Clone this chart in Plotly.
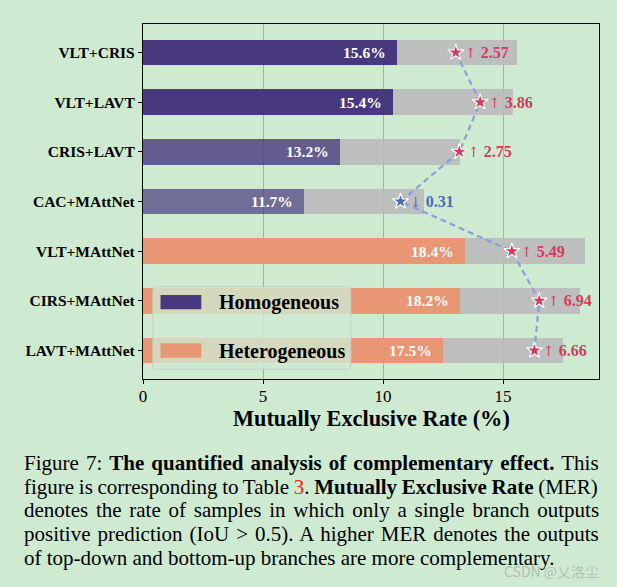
import plotly.graph_objects as go

categories = ["VLT+CRIS", "VLT+LAVT", "CRIS+LAVT", "CAC+MAttNet",
              "VLT+MAttNet", "CIRS+MAttNet", "LAVT+MAttNet"]
totals = [15.6, 15.4, 13.2, 11.7, 18.4, 18.2, 17.5]
colored = [10.6, 10.4, 8.2, 6.7, 13.4, 13.2, 12.5]
star_vals = [13.03, 14.05, 13.18, 10.73, 15.37, 16.51, 16.31]
deltas = [2.57, 3.86, 2.75, -0.31, 5.49, 6.94, 6.66]
groups = ["homo", "homo", "homo", "homo", "hetero", "hetero", "hetero"]
homo_alpha = [1.0, 1.0, 0.8, 0.7]
xticks = [0, 5, 10, 15]

BG = "#ceebd1"
FONT = "Liberation Serif"
PURPLE = (72, 57, 126)
SALMON = "rgb(233,150,116)"
GRAY = "rgba(186,186,186,0.9)"
UP = "#d43b5c"
DOWN = "#4a6cb4"

ypos = list(range(len(categories)))
bar_colors = []
hi = 0
for g in groups:
    if g == "homo":
        a = homo_alpha[hi]; hi += 1
        bar_colors.append(f"rgba({PURPLE[0]},{PURPLE[1]},{PURPLE[2]},{a})")
    else:
        bar_colors.append(SALMON)

fig = go.Figure()
fig.add_trace(go.Bar(y=ypos, x=colored, orientation="h", width=0.52,
                     marker=dict(color=bar_colors, line=dict(width=0)),
                     showlegend=False, hoverinfo="skip"))
fig.add_trace(go.Bar(y=ypos, x=[t - c for t, c in zip(totals, colored)],
                     orientation="h", width=0.52,
                     marker=dict(color=GRAY, line=dict(width=0)),
                     showlegend=False, hoverinfo="skip"))
fig.add_trace(go.Scatter(y=ypos, x=star_vals, mode="lines",
                         line=dict(color="#8a9fd8", width=2.2, dash="6px,4px"),
                         showlegend=False, hoverinfo="skip"))
fig.add_trace(go.Scatter(y=ypos, x=star_vals, mode="markers",
                         marker=dict(symbol="star", size=12,
                                     color=[UP if d > 0 else DOWN for d in deltas],
                                     line=dict(color="white", width=1.2)),
                         showlegend=False, hoverinfo="skip"))

annos = []
for y, c, t in zip(ypos, colored, totals):
    annos.append(dict(x=c, y=y, xref="x", yref="y", text=f"{t:.1f}%",
                      xanchor="right", yanchor="middle", xshift=-9, showarrow=False,
                      font=dict(family=FONT, size=15.5, color="white", weight="bold")))
for y, s, d in zip(ypos, star_vals, deltas):
    arrow = "↑" if d > 0 else "↓"
    txt = (f"<span style='font-family:DejaVu Serif;font-weight:normal;font-size:14px'>"
           f"{arrow}</span> {abs(d):.2f}")
    annos.append(dict(x=s, y=y, xref="x", yref="y", text=txt,
                      xanchor="left", yanchor="middle", xshift=7, showarrow=False,
                      font=dict(family=FONT, size=16, color=UP if d > 0 else DOWN,
                                weight="bold")))

# legend (drawn manually)
lx0, lx1, ly0, ly1 = 0.41, 8.66, 4.715, 6.38
rx, ry = 0.14, 0.07
path = (f"M {lx0+rx},{ly0} L {lx1-rx},{ly0} Q {lx1},{ly0} {lx1},{ly0+ry} "
        f"L {lx1},{ly1-ry} Q {lx1},{ly1} {lx1-rx},{ly1} L {lx0+rx},{ly1} "
        f"Q {lx0},{ly1} {lx0},{ly1-ry} L {lx0},{ly0+ry} Q {lx0},{ly0} {lx0+rx},{ly0} Z")
shapes = [dict(type="path", path=path, xref="x", yref="y",
               fillcolor="rgba(206,234,208,0.8)",
               line=dict(color="rgba(195,205,195,0.9)", width=1), layer="above")]
legend_items = [("Homogeneous", f"rgb{PURPLE}", 5.027), ("Heterogeneous", SALMON, 6.002)]
for name, col, yc in legend_items:
    shapes.append(dict(type="rect", xref="x", yref="y", x0=0.73, x1=2.43,
                       y0=yc - 0.145, y1=yc + 0.145, fillcolor=col,
                       line=dict(width=0), layer="above"))
    annos.append(dict(x=3.07, y=yc + 0.01, xref="x", yref="y", text=name,
                      xanchor="left", yanchor="middle", showarrow=False,
                      font=dict(family=FONT, size=20, color="black", weight="bold")))

# x axis title
PT, PH = 24.3, 354.7
def py(px):
    return (PT + PH - px) / PH

annos.append(dict(x=0.5, y=py(418), xref="paper", yref="paper",
                  text="<b>Mutually Exclusive Rate (%)</b>", showarrow=False,
                  xanchor="center", yanchor="middle",
                  font=dict(family=FONT, size=22.3, color="black")))

caption = [
    ("Figure 7: <b>The quantified analysis of complementary effect.</b> This", 463, 1.8),
    ("figure is corresponding to Table <span style='color:#ff2020'>3</span>. "
     "<b>Mutually Exclusive Rate</b> (MER)", 487, -0.6),
    ("denotes the rate of samples in which only a single branch outputs", 510, 2.5),
    ("positive prediction (IoU &gt; 0.5). A higher MER denotes the outputs", 534, 1.7),
    ("of top-down and bottom-up branches are more complementary.", 558, 0),
]
x_left_paper = (21.7 - 142.5) / (599.3 - 142.5)
for txt, ypx, ws in caption:
    t = f"<span style='word-spacing:{ws}px'>{txt}</span>" if ws else txt
    annos.append(dict(x=x_left_paper, y=py(ypx), xref="paper", yref="paper",
                      text=t, showarrow=False, xanchor="left", yanchor="middle",
                      font=dict(family=FONT, size=21, color="black")))

annos.append(dict(x=(601.7 - 142.5) / (599.3 - 142.5), y=py(571), xref="paper", yref="paper",
                  text="CSDN @乂洛尘", showarrow=False, xanchor="right", yanchor="middle",
                  font=dict(family="Noto Sans CJK SC", size=14, color="rgba(150,150,150,0.55)")))

fig.update_layout(
    width=617, height=587,
    margin=dict(l=142.5, r=17.7, t=24.3, b=208),
    paper_bgcolor=BG, plot_bgcolor=BG,
    barmode="stack", bargap=0,
    annotations=annos, shapes=shapes,
    xaxis=dict(range=[0, 19], tickvals=xticks, ticktext=[str(v) for v in xticks],
               showgrid=True, gridcolor="#aaaaaa", gridwidth=1, zeroline=False,
               showline=True, mirror=True, linecolor="black", linewidth=1.3,
               ticks="outside", ticklen=4, tickwidth=1, tickcolor="black",
               ticklabelstandoff=-3,
               tickfont=dict(family=FONT, size=17, color="black")),
    yaxis=dict(range=[6.575, -0.575], tickvals=ypos, ticktext=categories,
               showgrid=False, zeroline=False,
               showline=True, mirror=True, linecolor="black", linewidth=1.3,
               ticks="outside", ticklen=4, tickwidth=1, tickcolor="black",
               tickfont=dict(family=FONT, size=15.5, color="black", weight="bold")),
)

fig.write_html("out.html")
